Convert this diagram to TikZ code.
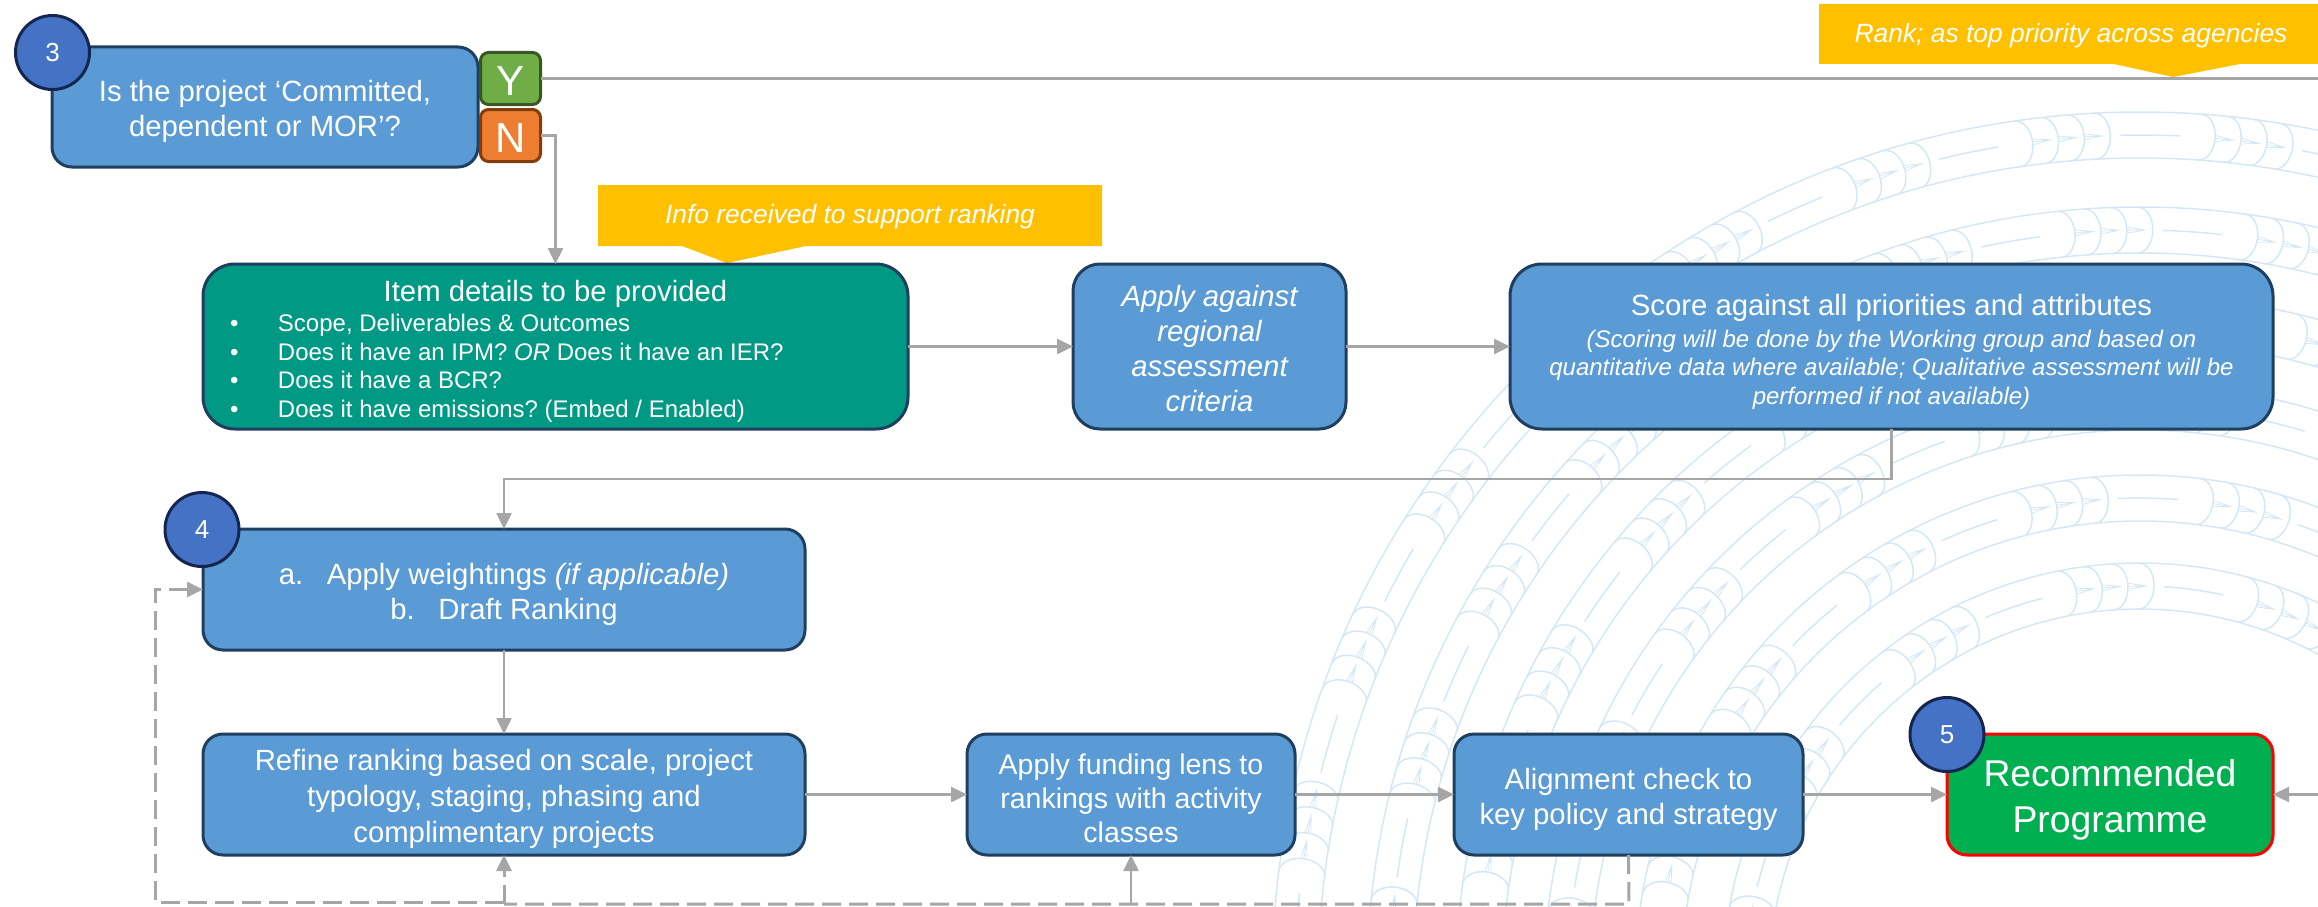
\documentclass[tikz,border=0pt]{standalone}
\usepackage{fontspec}
\setmainfont{Liberation Sans}
\usetikzlibrary{arrows.meta,calc}
\frenchspacing
\definecolor{boxblue}{HTML}{5B9BD5}
\definecolor{boxline}{HTML}{1F3F60}
\definecolor{itemgreen}{HTML}{009A84}
\definecolor{circblue}{HTML}{4472C4}
\definecolor{circline}{HTML}{14264F}
\definecolor{yesgreen}{HTML}{70AD47}
\definecolor{yesline}{HTML}{385723}
\definecolor{noorange}{HTML}{ED7D31}
\definecolor{noline}{HTML}{843C0C}
\definecolor{recgreen}{HTML}{00B050}
\definecolor{calloutyellow}{HTML}{FFC000}
\definecolor{conngrey}{HTML}{A6A6A6}
\definecolor{motifblue}{HTML}{D6E7F4}
\newcommand{\fsA}{\fontsize{29.3}{35}\selectfont}
\newcommand{\fsB}{\fontsize{24}{28.7}\selectfont}
\newcommand{\itemline}[1]{\hspace*{27pt}\makebox[48pt][l]{•}#1\par}
\newcommand{\lift}[1]{\rule{0pt}{\dimexpr 21.5pt+2\dimexpr #1\relax\relax}}
\tikzset{
  x=1pt,y=-1pt,
  boxbase/.style={rectangle,draw=boxline,line width=3pt,fill=boxblue,text=white,align=center,inner sep=0pt,outer sep=0pt,rounded corners=20pt,font=\fsA},
  badge/.style={circle,draw=circline,line width=3pt,fill=circblue,text=white,minimum size=74pt,inner sep=0pt,outer sep=0pt,font=\fontsize{26}{30}\selectfont},
  yn/.style={rectangle,line width=3pt,inner sep=0pt,outer sep=0pt,text=white,rounded corners=8pt,minimum width=60pt,minimum height=52pt,font=\fontsize{42}{46}\selectfont},
  conn/.style={draw=conngrey,line width=2.5pt,-{Triangle[length=16pt,width=15pt]}},
  plainconn/.style={draw=conngrey,line width=2.5pt},
  dashconn/.style={draw=conngrey,line width=3pt,dash pattern=on 19pt off 8pt},
  motif/.style={draw=motifblue,line width=1.5pt},
  callout/.style={fill=calloutyellow},
  callouttext/.style={text=white,inner sep=0pt,font=\fontsize{26.4}{30}\selectfont\itshape},
}
\begin{document}
\begin{tikzpicture}
\useasboundingbox (0,0) rectangle (2318,907);
% background motif
\begin{scope}
\clip (0,0) rectangle (2318,907);
\begin{scope}[shift={(2140,980)}]
\foreach \Ro/\ph in {868/5.1,773/9,684/-1.3,596/1.9,505/8.7,417/17.3}{
  \pgfmathsetmacro\Ri{\Ro-46}
  \pgfmathsetmacro\Rm{\Ro-23}
  \pgfmathsetmacro\Rp{\Rm+13}
  \pgfmathsetmacro\Rn{\Rm-13}
  \pgfmathsetmacro\Fa{\Rm+3}
  \pgfmathsetmacro\Fb{\Rm-3}
  \pgfmathsetmacro\dg{57.2958/\Rm}
  \draw[motif] (0,0) circle[radius=\Ro];
  \draw[motif] (0,0) circle[radius=\Ri];
  \foreach \k in {-8,...,5}{
    \pgfmathsetmacro\A{\ph+\k*183*\dg-90}
    \foreach \j in {0,1,2,3}{
      \pgfmathsetmacro\T{\A+\j*26*\dg}
      \pgfmathsetmacro\Ts{\T-15*\dg}
      \pgfmathsetmacro\Tc{\T-7*\dg}
      \pgfmathsetmacro\Tf{\T+18*\dg}
      \draw[motif] (\Ts:\Ro) .. controls (\Tc:\Ro) and (\T:\Rp) .. (\T:\Rm)
                   .. controls (\T:\Rn) and (\Tc:\Ri) .. (\Ts:\Ri);
      \ifnum\j<3
        \draw[motif,line width=0.8pt] (\T:\Fa) -- (\Tf:\Rm) -- (\T:\Fb) (\T:\Rm) -- (\Tf:\Rm);
      \fi
    }
    \pgfmathsetmacro\Da{\A+88*\dg}
    \pgfmathsetmacro\Db{\Da+60*\dg}
    \draw[motif] (\Da:\Rm) arc[start angle=\Da,end angle=\Db,radius=\Rm];
  }
}
\end{scope}
\end{scope}
% callouts
\fill[callout] (598,185) -- (1102,185) -- (1102,246) -- (806,246) -- (727,263) -- (682,246) -- (598,246) -- cycle;
\node[callouttext] (call1) at (850,217) {Info received to support ranking};
\fill[callout] (1819,4) -- (2318,4) -- (2318,64) -- (2240,64) -- (2173,77) -- (2114,64) -- (1819,64) -- cycle;
\node[callouttext] (call2) at (2071,36) {Rank; as top priority across agencies};
% boxes
\node[boxbase,minimum width=426pt,minimum height=120pt] (q) at (265,107) {\lift{4.5pt}Is the project ‘Committed,\\dependent or MOR’?};
\node[yn,fill=yesgreen,draw=yesline] (yes) at (510.5,78.5) {\rule{0pt}{34pt}Y};
\node[yn,fill=noorange,draw=noline] (no) at (510.5,135.5) {\rule{0pt}{34pt}N};
\node[boxbase,fill=itemgreen,rounded corners=32pt,minimum width=705pt,minimum height=165pt,text width=705pt,align=flush left] (item) at (555.5,346.5) {%
  {\centering\fontsize{29.3}{34}\selectfont\lift{5pt}Item details to be provided\par}\vspace{1pt}
  \fsB\itemline{Scope, Deliverables \& Outcomes}
  \itemline{Does it have an IPM? \textit{OR} Does it have an IER?}
  \itemline{Does it have a BCR?}
  \itemline{Does it have emissions? (Embed / Enabled)}};
\node[boxbase,rounded corners=27pt,minimum width=273pt,minimum height=165pt,font=\fsA\itshape] (apply) at (1209.5,346.5) {\lift{2pt}Apply against\\regional\\assessment\\criteria};
\node[boxbase,rounded corners=32pt,minimum width=763pt,minimum height=165pt] (score) at (1891.5,346.5) {\lift{5pt}Score against all priorities and attributes\\[-3pt]
  {\fsB\itshape (Scoring will be done by the Working group and based on}\\[-6.3pt]
  {\fsB\itshape quantitative data where available; Qualitative assessment will be}\\[-6.3pt]
  {\fsB\itshape performed if not available)}};
\node[boxbase,minimum width=602pt,minimum height=121pt] (draft) at (504,589.5) {\lift{4.4pt}\makebox[48pt][l]{a.}Apply weightings \textit{(if applicable)}\\\makebox[48pt][l]{b.}Draft Ranking};
\node[boxbase,minimum width=602pt,minimum height=121pt,font=\fontsize{29.3}{36}\selectfont] (refine) at (504,794.5) {\lift{4.5pt}Refine ranking based on scale, project\\typology, staging, phasing and\\complimentary projects};
\node[boxbase,minimum width=328pt,minimum height=121pt,font=\fontsize{28.5}{34}\selectfont] (fund) at (1131,794.5) {\lift{3pt}Apply funding lens to\\rankings with activity\\classes};
\node[boxbase,minimum width=349pt,minimum height=121pt] (align) at (1628.5,794.5) {\lift{5pt}Alignment check to\\key policy and strategy};
\node[boxbase,draw=red,fill=recgreen,minimum width=326pt,minimum height=121pt,font=\fontsize{37.3}{46}\selectfont] (rec) at (2110,794.5) {\rule{0pt}{38.5pt}Recommended\\Programme};
% free ends
\coordinate (yesend) at (2318,78.5);
\coordinate (recend) at (2318,794.5);
\coordinate (lowA) at (1629,904);
\coordinate (lowB) at (504,902);
\coordinate (loopcorner) at (155,902);
% connectors
\draw[plainconn] (yes.east) -- (yesend);
\draw[conn] (no.east) -| (item.north);
\draw[conn] (item.east) -- (apply.west);
\draw[conn] (apply.east) -- (score.west);
\draw[conn] (score.south) -- ++(0,50) -| (draft.north);
\draw[conn] (draft.south) -- (refine.north);
\draw[conn] (refine.east) -- (fund.west);
\draw[conn] (fund.east) -- (align.west);
\draw[conn] (align.east) -- (rec.west);
\draw[conn] (recend) -- (rec.east);
\draw[dashconn] (align.south) -- (lowA) -- (lowA -| refine.south);
\draw[conn] (lowA -| fund.south) -- (fund.south);
\draw[dashconn,-{Triangle[length=16pt,width=15pt]}] (lowA -| refine.south) -- (refine.south);
\draw[dashconn,-{Triangle[length=16pt,width=15pt]}] (lowB) -- (loopcorner) |- (draft.west);
% badges
\node[badge] (b3) at (52.5,52.5) {3};
\node[badge] (b4) at (202,529.5) {4};
\node[badge] (b5) at (1947,734.5) {5};
\end{tikzpicture}
\end{document}
